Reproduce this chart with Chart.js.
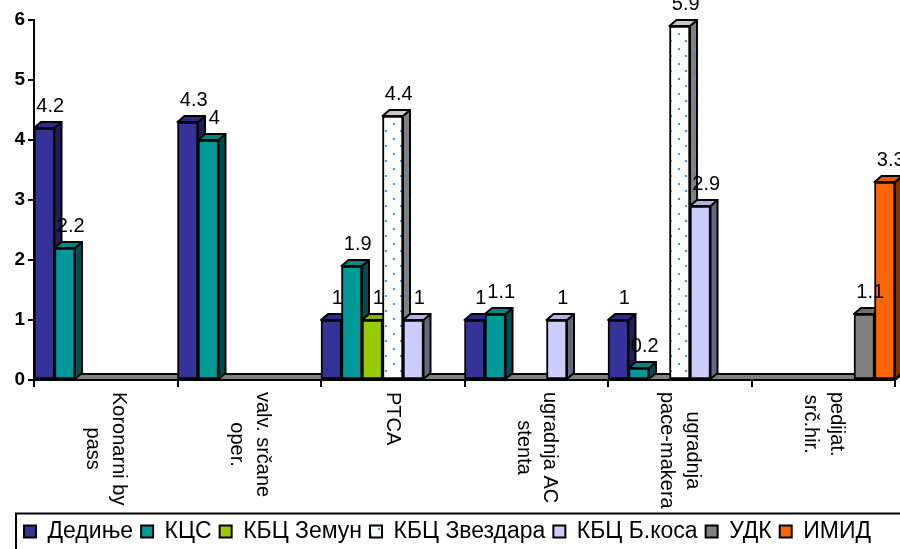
<!DOCTYPE html>
<html>
<head>
<meta charset="utf-8">
<script src="https://cdn.jsdelivr.net/npm/chart.js@4"></script>
<style>
  html, body { margin: 0; padding: 0; background: #fff; }
  #wrap { width: 900px; height: 549px; position: relative; overflow: hidden; }
</style>
</head>
<body>
<div id="wrap"><canvas id="barChart"></canvas></div>
<script>
const categories = [
  ['Koronarni by', 'pass'],
  ['valv. srčane', 'oper.'],
  ['PTCA'],
  ['ugradnja AC', 'stenta'],
  ['ugradnja', 'pace-makera'],
  ['pedijat.', 'srč.hir.']
];
const seriesNames = ['Дедиње', 'КЦС', 'КБЦ Земун', 'КБЦ Звездара', 'КБЦ Б.коса', 'УДК', 'ИМИД'];
const dedinje  = [4.2, 4.3, 1, 1, 1, null];
const kcs      = [2.2, 4, 1.9, 1.1, 0.2, null];
const zemun    = [null, null, 1, null, null, null];
const zvezdara = [null, null, 4.4, null, 5.9, null];
const bkosa    = [null, null, 1, 1, 2.9, null];
const udk      = [null, null, null, null, null, 1.1];
const imid     = [null, null, null, null, null, 3.3];
const yTicks = [0, 1, 2, 3, 4, 5, 6];

const FONT = "'Liberation Sans', Arial, sans-serif";
const DX = 7, DY = 6;   // depth offset of the 3d faces

// fill with small blue dots
function dotPattern(bg) {
  const c = document.createElement('canvas');
  c.width = 15; c.height = 15;
  const g = c.getContext('2d');
  g.fillStyle = bg;
  g.fillRect(0, 0, 15, 15);
  g.fillStyle = '#4d94e6';
  g.fillRect(3, 3, 2, 2);
  g.fillRect(10, 10, 2, 2);
  return g.createPattern(c, 'repeat');
}

const fronts = ['#333399', '#009999', '#99CC00', dotPattern('#ffffff'), '#CCCCFF', '#808080', '#FF6600'];
const tops   = ['#2b2b85', '#008585', '#85b300', dotPattern('#c8c8c8'), '#b3b3e6', '#707070', '#e65c00'];
const sides  = ['#1f1f5c', '#004d4d', '#4d6600', dotPattern('#808080'), '#666680', '#404040', '#803300'];

const seriesData = [dedinje, kcs, zemun, zvezdara, bkosa, udk, imid];

const depthFaces = {
  id: 'depthFaces',
  beforeDatasetsDraw(chart) {
    const ctx = chart.ctx;
    const {left, right, bottom} = chart.chartArea;
    ctx.save();
    ctx.lineWidth = 2;
    ctx.strokeStyle = '#000';
    ctx.lineJoin = 'round';
    // floor
    ctx.beginPath();
    ctx.moveTo(left, bottom);
    ctx.lineTo(left + DX, bottom - DY);
    ctx.lineTo(right + DX, bottom - DY);
    ctx.lineTo(right, bottom);
    ctx.closePath();
    ctx.fillStyle = '#808080';
    ctx.fill();
    ctx.stroke();
    // side and top faces, left to right
    chart.data.datasets.forEach((ds, di) => {
      const meta = chart.getDatasetMeta(di);
      meta.data.forEach((bar, i) => {
        if (ds.data[i] == null) return;
        const p = bar.getProps(['x', 'y', 'base', 'width'], true);
        const l = p.x - p.width / 2, r = p.x + p.width / 2;
        ctx.beginPath();
        ctx.moveTo(r, p.y);
        ctx.lineTo(r + DX, p.y - DY);
        ctx.lineTo(r + DX, p.base - DY);
        ctx.lineTo(r, p.base);
        ctx.closePath();
        ctx.fillStyle = sides[di];
        ctx.fill();
        ctx.stroke();
        ctx.beginPath();
        ctx.moveTo(l, p.y);
        ctx.lineTo(l + DX, p.y - DY);
        ctx.lineTo(r + DX, p.y - DY);
        ctx.lineTo(r, p.y);
        ctx.closePath();
        ctx.fillStyle = tops[di];
        ctx.fill();
        ctx.stroke();
      });
    });
    ctx.restore();
  },
  afterDatasetsDraw(chart) {
    const ctx = chart.ctx;
    ctx.save();
    ctx.font = '20px ' + FONT;
    ctx.fillStyle = '#000';
    ctx.textAlign = 'center';
    ctx.textBaseline = 'bottom';
    chart.data.datasets.forEach((ds, di) => {
      chart.getDatasetMeta(di).data.forEach((bar, i) => {
        const v = ds.data[i];
        if (v == null) return;
        ctx.fillText(String(v), bar.x + 6, bar.y - DY - 6);
      });
    });
    ctx.restore();
  },
  afterDraw(chart) {
    const ctx = chart.ctx;
    const xs = chart.scales.x;
    ctx.save();
    // category names, turned to read downwards
    ctx.font = '20px ' + FONT;
    ctx.fillStyle = '#000';
    ctx.textAlign = 'center';
    ctx.textBaseline = 'middle';
    categories.forEach((lines, i) => {
      const cx = xs.getPixelForValue(i);
      const widest = Math.max(...lines.map(t => ctx.measureText(t).width));
      ctx.save();
      ctx.translate(cx, xs.top + 12);
      ctx.rotate(Math.PI / 2);
      lines.forEach((t, k) => {
        ctx.fillText(t, widest / 2, (k - (lines.length - 1) / 2) * 26);
      });
      ctx.restore();
    });
    // frame around the legend
    const hb = chart.legend.legendHitBoxes[0];
    const mid = hb.top + hb.height / 2;
    ctx.lineWidth = 2;
    ctx.strokeStyle = '#000';
    ctx.strokeRect(hb.left - 8, mid - 18, chart.width, 60);
    ctx.restore();
  }
};

const ctx = document.getElementById('barChart').getContext('2d');
new Chart(ctx, {
  type: 'bar',
  data: {
    labels: categories.map(c => c.join(' ')),
    datasets: seriesNames.map((name, i) => ({
      label: name,
      data: seriesData[i],
      backgroundColor: fronts[i],
      borderColor: '#000',
      borderWidth: 2,
      borderSkipped: false,
      barPercentage: 1,
      categoryPercentage: 1,
      clip: false
    }))
  },
  options: {
    responsive: true,
    maintainAspectRatio: false,
    animation: false,
    layout: { padding: { top: 20, right: 5, left: 0, bottom: -4 } },
    plugins: {
      tooltip: { enabled: false },
      legend: {
        position: 'bottom',
        labels: {
          boxWidth: 12,
          boxHeight: 12,
          padding: 8,
          color: '#000',
          font: { size: 23, family: FONT, lineHeight: 0.8 }
        }
      }
    },
    scales: {
      x: {
        grid: { drawOnChartArea: false, drawTicks: true, tickLength: 7, color: '#000', lineWidth: 2 },
        border: { display: true, color: '#000', width: 2 },
        ticks: { display: false },
        afterFit(scale) { scale.height = 553 - 380 - scale.chart.legend.height; }
      },
      y: {
        min: 0,
        max: 6,
        afterBuildTicks(scale) { scale.ticks = yTicks.map(v => ({ value: v })); },
        grid: { drawOnChartArea: false, drawTicks: true, tickLength: 6, color: '#000', lineWidth: 2 },
        border: { display: true, color: '#000', width: 2 },
        ticks: { padding: 3, color: '#000', font: { size: 19, weight: 'bold', family: FONT } },
        afterFit(scale) { scale.width = 34; }
      }
    }
  },
  plugins: [depthFaces]
});
</script>
</body>
</html>
